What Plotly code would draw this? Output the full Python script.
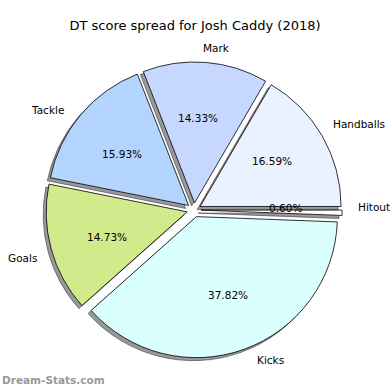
import math
import plotly.graph_objects as go

labels = ["Hitout", "Handballs", "Mark", "Tackle", "Goals", "Kicks"]
values = [0.60, 16.59, 14.33, 15.93, 14.73, 37.82]
colors = ["#ffffff", "#eaf1ff", "#c6d8ff", "#b3d4ff", "#d0ea8c", "#d9ffff"]
title = "DT score spread for Josh Caddy (2018)"
watermark = "Dream-Stats.com"

W = H = 390
cx, cy = 194, 180      # pie centre in px (from bottom-left)
pull = 0.05
r = 141                # pie radius px
half = r * (1 + pull)  # half size of domain in px
sh = 3                 # shadow offset px

def dom(dx=0, dy=0):
    return dict(x=[(cx - half + dx) / W, (cx + half + dx) / W],
                y=[(cy - half + dy) / H, (cy + half + dy) / H])

common = dict(labels=labels, values=values, sort=False, direction="counterclockwise",
              rotation=90, pull=pull, hoverinfo="skip", showlegend=False, textinfo="none")

fig = go.Figure()
fig.add_trace(go.Pie(**common, domain=dom(-sh, -sh),
                     marker=dict(colors=["rgba(70,70,70,0.55)"] * len(values),
                                 line=dict(color="rgba(60,60,60,0.6)", width=1))))
fig.add_trace(go.Pie(**common, domain=dom(),
                     marker=dict(colors=colors, line=dict(color="black", width=0.8))))

# matplotlib-style label placement derived from the data
total = sum(values)
annots = []
start = 0.0
for lab, v in zip(labels, values):
    mid = math.radians(360 * (start + v / 2) / total)
    start += v
    c, s = math.cos(mid), math.sin(mid)
    lx = cx + r * (pull + 1.1) * c
    ly = cy + r * (pull + 1.1) * s
    annots.append(dict(text=lab, x=lx / W, y=ly / H, xref="paper", yref="paper",
                       xanchor="left" if c > 0 else "right", yanchor="middle",
                       showarrow=False, font=dict(family="DejaVu Sans", size=10.5, color="black")))
    px = cx + r * (pull + 0.6) * c
    py = cy + r * (pull + 0.6) * s
    annots.append(dict(text=f"{v:.2f}%", x=px / W, y=py / H, xref="paper", yref="paper",
                       xanchor="center", yanchor="middle", showarrow=False,
                       font=dict(family="DejaVu Sans", size=10.5, color="black")))

annots.append(dict(text=watermark, x=0, y=10 / H, xref="paper", yref="paper",
                   xanchor="left", yanchor="middle", showarrow=False,
                   font=dict(family="DejaVu Sans", size=10.5, color="#999999", weight="bold")))

fig.update_layout(
    width=W, height=H, margin=dict(l=0, r=0, t=0, b=0),
    paper_bgcolor="white", plot_bgcolor="white",
    title=dict(text=title, x=0.5, xanchor="center", y=1 - 25 / H, yanchor="middle",
               font=dict(family="DejaVu Sans", size=13, color="black")),
    annotations=annots,
)
fig.write_html("out.html", config={"displayModeBar": False},
               post_script="document.body.style.margin='0';")
